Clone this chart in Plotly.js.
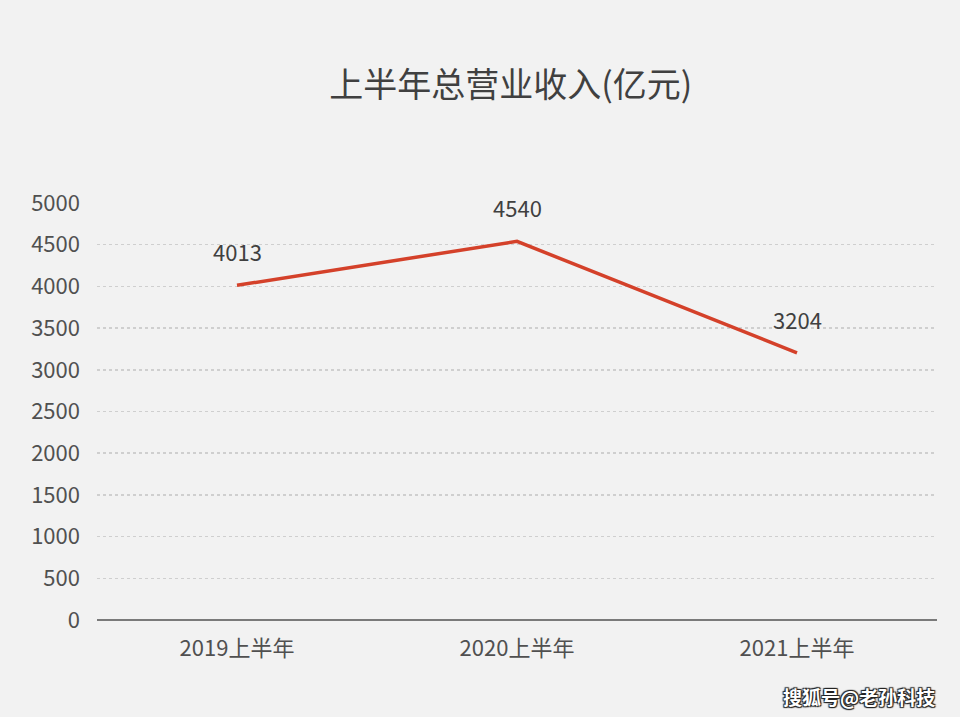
<!DOCTYPE html>
<html>
<head>
<meta charset="utf-8">
<script src="https://cdn.plot.ly/plotly-3.0.1.min.js"></script>
<style>
html,body{margin:0;padding:0;background:#f2f2f2;}
#chart{width:960px;height:717px;}
</style>
</head>
<body>
<div id="chart"></div>
<script>
const categories = ["2019上半年", "2020上半年", "2021上半年"];
const revenue = [4013, 4540, 3204];
const yTicks = [0, 500, 1000, 1500, 2000, 2500, 3000, 3500, 4000, 4500, 5000];
const titleText = "上半年总营业收入(亿元)";
const watermark = "搜狐号@老孙科技";

const FONT = "'Noto Sans CJK SC', 'Microsoft YaHei', sans-serif";

const trace = {
  x: categories,
  y: revenue,
  type: "scatter",
  mode: "lines",
  line: {color: "#d4412a", width: 3.5},
  hoverinfo: "none"
};

const labelAnnotations = categories.map((c, i) => ({
  x: c, y: revenue[i], xref: "x", yref: "y",
  text: String(revenue[i]),
  showarrow: false,
  yshift: 34,
  font: {family: FONT, size: 22, color: "#404040"}
}));

const layout = {
  width: 960, height: 717,
  margin: {l: 97, r: 23, t: 203, b: 97},
  paper_bgcolor: "#f2f2f2",
  plot_bgcolor: "rgba(0,0,0,0)",
  showlegend: false,
  title: {
    text: titleText,
    x: 0.532, xanchor: "center",
    y: 0.882, yanchor: "middle",
    font: {family: FONT, size: 34, color: "#404040"}
  },
  xaxis: {
    type: "category",
    range: [-0.5, 2.5],
    showgrid: false,
    zeroline: false,
    showline: false,
    ticks: "",
    tickfont: {family: FONT, size: 22, color: "#505050"},
    ticklabelstandoff: 13
  },
  yaxis: {
    range: [0, 5000],
    tickvals: yTicks,
    ticktext: yTicks.map(String),
    showgrid: true,
    gridcolor: "#cfcfcf",
    gridwidth: 1.5,
    griddash: "dot",
    zeroline: true,
    zerolinecolor: "#7a7a7a",
    zerolinewidth: 2,
    showline: false,
    ticks: "",
    tickfont: {family: FONT, size: 22, color: "#505050"},
    ticklabelstandoff: 16
  },
  annotations: labelAnnotations.concat([{
    xref: "paper", yref: "paper",
    x: 1.0, y: -0.184, xanchor: "right", yanchor: "middle",
    text: watermark, showarrow: false,
    font: {family: FONT, size: 19, color: "#ffffff", weight: 700,
           shadow: "1px 1px 1px #222, -1px -1px 1px #222, 1px -1px 1px #222, -1px 1px 1px #222"}
  }])
};

Plotly.newPlot("chart", [trace], layout, {displayModeBar: false, staticPlot: true});
</script>
</body>
</html>
